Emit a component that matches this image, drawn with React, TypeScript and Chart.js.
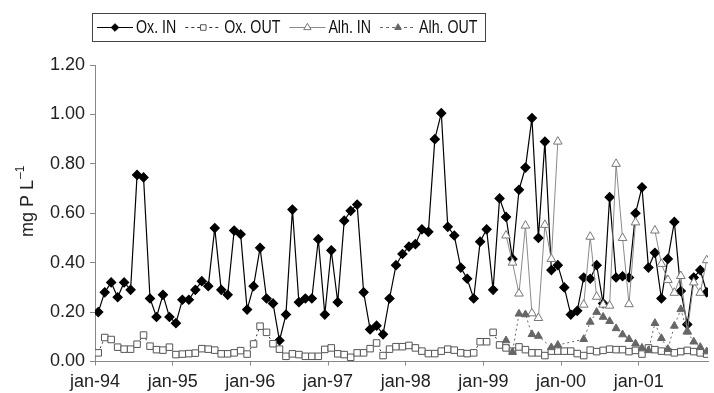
import React, { useEffect, useRef } from 'react';
import { Chart, registerables } from 'chart.js';

Chart.register(...registerables);

// ---- data ----
const seriesNames = ['Ox. IN', 'Ox. OUT', 'Alh. IN', 'Alh. OUT'];
const xTickLabels = ['jan-94', 'jan-95', 'jan-96', 'jan-97', 'jan-98', 'jan-99', 'jan-00', 'jan-01'];
const yTickValues = [0, 0.2, 0.4, 0.6, 0.8, 1.0, 1.2];
const yTitle = 'mg P L';
const yTitleSup = '\u20131';

// monthly samples from jan-94 (month index 0)
const oxIn = [
  0.20, 0.28, 0.32, 0.26, 0.32, 0.29, 0.755, 0.745, 0.255, 0.18, 0.27, 0.18,
  0.155, 0.25, 0.25, 0.29, 0.325, 0.305, 0.54, 0.29, 0.27, 0.53, 0.515, 0.21,
  0.305, 0.46, 0.255, 0.235, 0.085, 0.19, 0.615, 0.24, 0.255, 0.255, 0.495, 0.19,
  0.45, 0.24, 0.57, 0.61, 0.635, 0.28, 0.13, 0.145, 0.11, 0.255, 0.39, 0.435,
  0.465, 0.475, 0.535, 0.525, 0.90, 1.005, 0.545, 0.51, 0.38, 0.335, 0.255, 0.485,
  0.535, 0.29, 0.66, 0.585, 0.415, 0.695, 0.785, 0.985, 0.50, 0.89, 0.37, 0.39,
  0.30, 0.19, 0.205, 0.34, 0.335, 0.39, 0.235, 0.665, 0.34, 0.345, 0.34, 0.60,
  0.705, 0.38, 0.44, 0.255, 0.415, 0.565, 0.285, 0.15, 0.34, 0.37, 0.28,
];
const oxOut = [
  0.035, 0.097, 0.089, 0.058, 0.05, 0.05, 0.07, 0.107, 0.062, 0.048, 0.046, 0.058,
  0.028, 0.03, 0.032, 0.034, 0.052, 0.05, 0.046, 0.031, 0.031, 0.035, 0.044, 0.03,
  0.071, 0.143, 0.118, 0.072, 0.05, 0.021, 0.031, 0.028, 0.021, 0.021, 0.021, 0.049,
  0.055, 0.031, 0.028, 0.017, 0.035, 0.035, 0.052, 0.075, 0.024, 0.05, 0.06, 0.06,
  0.065, 0.055, 0.042, 0.032, 0.032, 0.042, 0.05, 0.046, 0.035, 0.032, 0.035, 0.08,
  0.08, 0.118, 0.067, 0.055, 0.042, 0.059, 0.048, 0.035, 0.035, 0.024, 0.042, 0.042,
  0.042, 0.042, 0.032, 0.024, 0.046, 0.04, 0.045, 0.05, 0.048, 0.048, 0.04, 0.045,
  0.03, 0.055, 0.048, 0.042, 0.04, 0.035, 0.04, 0.045, 0.04, 0.035, 0.03,
];
const alhStartMonth = 63; // apr-99
const alhIn = [
  0.51, 0.40, 0.275, 0.55, 0.195, 0.176, 0.553, 0.415, 0.89,
  null, null, null,
  0.23, 0.505, 0.262, 0.23, 0.226, 0.80, 0.50, 0.232, 0.563,
  null, null,
  0.53, 0.395, 0.33, 0.278, 0.346, 0.122, 0.32, 0.278, 0.41,
];
const alhOut = [
  0.085, 0.038, 0.193, 0.19, 0.11, 0.103, null, 0.057, 0.067,
  null, null, null,
  0.09, 0.16, 0.20, 0.18, 0.163, 0.134, 0.109, 0.09, 0.072, 0.055, 0.045,
  0.155, 0.094, 0.05, 0.144, 0.211, 0.12, 0.08, 0.058, 0.04,
];

// samples are plotted at mid-month
const toPoints = (vals: (number | null)[], start: number) =>
  vals.map((v, j) => ({ x: start + j + 0.5, y: v }));

const TICK_FONT = { family: "'Liberation Sans', Arial, Helvetica, sans-serif", size: 18 };
const LEGEND_FONT = "18px 'Liberation Sans', Arial, sans-serif";
const LEGEND_SQUEEZE = 0.79;

function drawMarker(ctx: CanvasRenderingContext2D, style: string, x: number, y: number, r: number, fill: string, stroke: string) {
  ctx.beginPath();
  if (style === 'rectRot') {
    ctx.moveTo(x, y - r); ctx.lineTo(x + r, y); ctx.lineTo(x, y + r); ctx.lineTo(x - r, y); ctx.closePath();
  } else if (style === 'rect') {
    const s = Math.SQRT1_2 * r;
    ctx.rect(x - s, y - s, 2 * s, 2 * s);
  } else {
    let a = 0;
    ctx.moveTo(x + Math.sin(a) * r, y - Math.cos(a) * r);
    a += (2 * Math.PI) / 3; ctx.lineTo(x + Math.sin(a) * r, y - Math.cos(a) * r);
    a += (2 * Math.PI) / 3; ctx.lineTo(x + Math.sin(a) * r, y - Math.cos(a) * r);
    ctx.closePath();
  }
  ctx.fillStyle = fill; ctx.fill();
  ctx.strokeStyle = stroke; ctx.lineWidth = 1; ctx.stroke();
}

const decorPlugin = {
  id: 'decor',
  afterDraw(chart: any) {
    const ctx: CanvasRenderingContext2D = chart.ctx;
    const ds = chart.data.datasets;
    ctx.save();
    // boxed legend
    ctx.font = LEGEND_FONT;
    ctx.textBaseline = 'middle';
    ctx.textAlign = 'left';
    const cy = 27.5;
    const boxLeft = 92;
    let x = 97;
    let lastEnd = x;
    ds.forEach((d: any) => {
      const x1 = x + 36;
      ctx.strokeStyle = d.borderColor;
      ctx.lineWidth = 1;
      ctx.setLineDash(d.borderDash ? [3, 3] : []);
      ctx.beginPath(); ctx.moveTo(x, cy); ctx.lineTo(x1, cy); ctx.stroke();
      ctx.setLineDash([]);
      drawMarker(ctx, d.pointStyle, (x + x1) / 2, cy, d.pointRadius * 0.85, d.pointBackgroundColor, d.pointBorderColor);
      ctx.fillStyle = '#111';
      ctx.save();
      ctx.translate(x1 + 3, cy + 1);
      ctx.scale(LEGEND_SQUEEZE, 1);
      ctx.fillText(d.label, 0, 0);
      ctx.restore();
      lastEnd = x1 + 3 + ctx.measureText(d.label).width * LEGEND_SQUEEZE;
      x = lastEnd + 9;
    });
    ctx.strokeStyle = '#444';
    ctx.lineWidth = 1;
    ctx.strokeRect(boxLeft + 0.5, 13.5, Math.round(lastEnd + 7 - boxLeft), 28);

    // y-axis title with superscript
    ctx.translate(33, 237);
    ctx.rotate(-Math.PI / 2);
    ctx.textBaseline = 'alphabetic';
    ctx.fillStyle = '#222';
    ctx.font = "18px 'Liberation Sans', Arial, sans-serif";
    ctx.fillText(yTitle, 0, 0);
    const w = ctx.measureText(yTitle).width;
    ctx.font = "12px 'Liberation Sans', Arial, sans-serif";
    ctx.fillText(yTitleSup, w + 1, -9);
    ctx.restore();
  },
};

export default function App() {
  const ref = useRef<HTMLCanvasElement | null>(null);

  useEffect(() => {
    if (!ref.current) return;
    const chart = new Chart(ref.current, {
      type: 'line',
      data: {
        datasets: [
          {
            label: seriesNames[0],
            data: toPoints(oxIn, 0),
            borderColor: '#000',
            borderWidth: 1.2,
            pointStyle: 'rectRot',
            pointRadius: 4.5,
            pointBackgroundColor: '#000',
            pointBorderColor: '#000',
            order: 4,
          },
          {
            label: seriesNames[1],
            data: toPoints(oxOut, 0),
            borderColor: '#333',
            borderWidth: 1,
            borderDash: [2, 3],
            pointStyle: 'rect',
            pointRadius: 4.6,
            pointBackgroundColor: '#fff',
            pointBorderColor: '#555',
            pointBorderWidth: 1,
            order: 3,
          },
          {
            label: seriesNames[2],
            data: toPoints(alhIn, alhStartMonth),
            borderColor: '#8a8a8a',
            borderWidth: 1,
            pointStyle: 'triangle',
            pointRadius: 5,
            pointBackgroundColor: '#fff',
            pointBorderColor: '#777',
            pointBorderWidth: 1,
            spanGaps: false,
            order: 2,
          },
          {
            label: seriesNames[3],
            data: toPoints(alhOut, alhStartMonth),
            borderColor: '#666',
            borderWidth: 1,
            borderDash: [2, 3],
            pointStyle: 'triangle',
            pointRadius: 4.5,
            pointBackgroundColor: '#666',
            pointBorderColor: '#666',
            pointBorderWidth: 1,
            spanGaps: true,
            order: 1,
          },
        ] as any,
      },
      options: {
        animation: false,
        responsive: false,
        devicePixelRatio: 1,
        layout: { padding: { top: 65, left: 0, right: 0, bottom: 0 } },
        plugins: {
          legend: { display: false },
          tooltip: { enabled: false },
        },
        scales: {
          x: {
            type: 'linear',
            min: 0,
            max: 94.7,
            afterBuildTicks: (s: any) => {
              s.ticks = xTickLabels.map((_, i) => ({ value: i * 12 }));
            },
            afterFit: (s: any) => {
              s.height = 31.5;
            },
            ticks: {
              callback: (_v: any, i: number) => xTickLabels[i],
              font: TICK_FONT,
              color: '#222',
              maxRotation: 0,
              autoSkip: false,
              padding: 6,
            },
            grid: { drawOnChartArea: false, tickLength: 4, color: '#888' },
            border: { color: '#888', width: 1 },
          },
          y: {
            min: 0,
            max: 1.2,
            afterBuildTicks: (s: any) => {
              s.ticks = yTickValues.map((v) => ({ value: v }));
            },
            afterFit: (s: any) => {
              s.width = 95;
            },
            ticks: {
              callback: (v: any) => Number(v).toFixed(2),
              font: TICK_FONT,
              color: '#222',
              padding: 5,
            },
            grid: { drawOnChartArea: false, tickLength: 5, color: '#888' },
            border: { color: '#888', width: 1 },
          },
        },
      } as any,
      plugins: [decorPlugin],
    });
    return () => chart.destroy();
  }, []);

  return (
    <div style={{ position: 'absolute', left: 0, top: 0, width: 714, height: 393, background: '#fff' }}>
      <canvas ref={ref} width={714} height={393} style={{ display: 'block' }} />
    </div>
  );
}
